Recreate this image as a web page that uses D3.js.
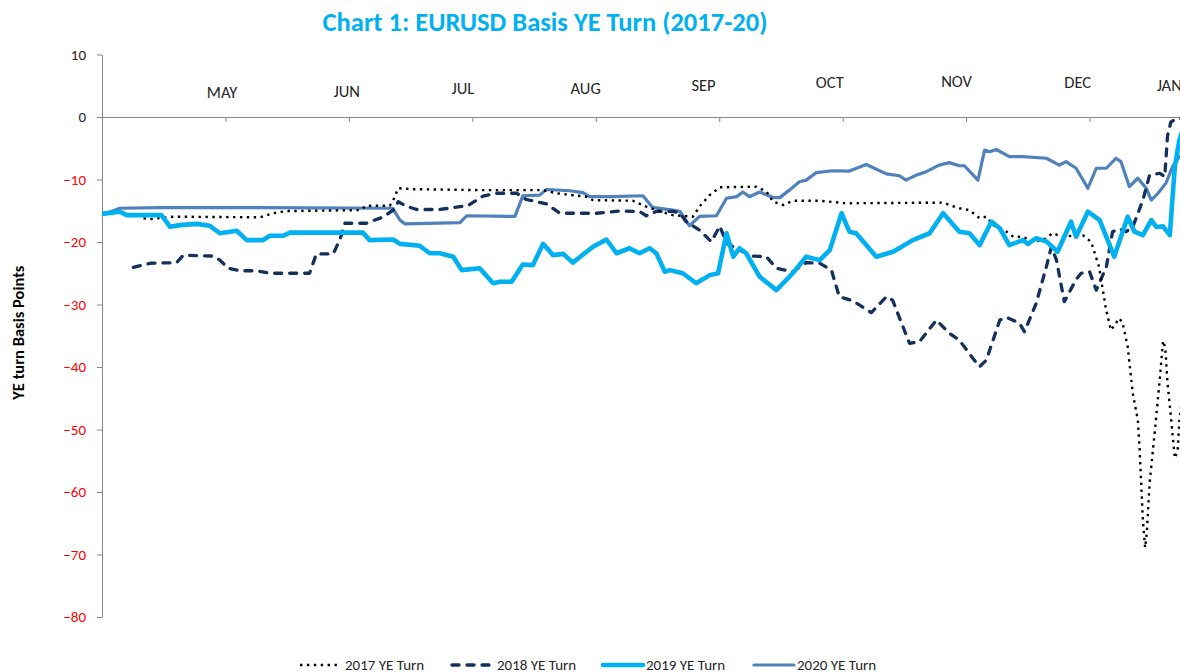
<!DOCTYPE html>
<html>
<head>
<meta charset="utf-8">
<script src="https://cdn.jsdelivr.net/npm/d3@7"></script>
<style>
  body { margin: 0; background: #fff; }
  text { font-family: Carlito, Lato, "Open Sans", sans-serif; }
</style>
</head>
<body>
<div id="chart"></div>
<script>
// x = trading day from start of window (22 per month), y = basis points
const monthNames = ['MAY', 'JUN', 'JUL', 'AUG', 'SEP', 'OCT', 'NOV', 'DEC', 'JAN'];
const monthLabelAt = [[21.4, 4.0], [43.6, 4.2], [64.3, 4.6], [86.2, 4.6], [107.2, 5.1],
                      [129.7, 5.6], [152.3, 5.8], [173.9, 5.6], [190.2, 5.1]];
const monthTicks = [22, 44, 66, 88, 110, 132, 154, 176];
const yTicks = [10, 0, -10, -20, -30, -40, -50, -60, -70, -80];

const ye2017 = [[7.4,-16.2],[8.6,-16.35],[12.7,-15.95],[28.1,-16.05],[30.5,-15.4],[32.9,-15.05],
  [46.0,-14.9],[47.1,-14.2],[51.3,-14.2],[51.9,-13.3],[52.8,-11.4],[55.5,-11.55],[67.3,-11.7],
  [78.6,-11.7],[81.0,-12.2],[86.3,-12.75],[87.5,-13.3],[94.6,-13.4],[97.0,-14.35],[100.6,-15.4],
  [101.7,-15.7],[105.3,-15.95],[106.5,-14.3],[108.3,-12.5],[110.1,-11.25],[116.6,-11.15],
  [118.4,-11.9],[119.6,-13.55],[121.4,-14.1],[123.1,-13.4],[127.9,-13.4],[132.6,-13.8],
  [149.9,-13.7],[151.6,-14.25],[152.8,-14.6],[154.6,-14.9],[156.4,-16.2],[157.6,-15.95],
  [158.8,-17.3],[161.2,-18.35],[162.4,-19.15],[164.1,-19.15],[165.9,-19.95],[167.7,-19.7],
  [169.4,-18.6],[171.2,-19.15],[173.0,-19.0],[174.8,-18.9],[176.3,-20.0],[177.7,-24.0],
  [178.9,-30.6],[179.8,-34.1],[180.7,-33.0],[181.3,-32.2],[181.9,-33.0],[182.8,-36.75],
  [183.7,-44.2],[184.6,-48.5],[184.9,-52.7],[185.2,-58.6],[185.5,-64.5],[185.9,-68.9],
  [186.2,-66.6],[186.7,-58.6],[187.6,-50.6],[188.5,-42.1],[189.1,-35.8],[189.5,-37.0],
  [189.9,-42.6],[190.5,-47.95],[191.2,-54.6],[191.7,-53.3],[192.0,-48.75],[192.6,-44.0]];

const ye2018 = [[5.6,-24.05],[8.6,-23.4],[13.3,-23.3],[14.5,-22.1],[19.8,-22.25],[21.0,-22.9],
  [22.5,-24.2],[24.6,-24.6],[27.6,-24.6],[29.9,-25.0],[37.0,-25.0],[38.2,-21.9],[41.2,-21.9],
  [42.4,-19.6],[43.3,-17.0],[47.1,-17.0],[50.1,-16.0],[51.9,-14.9],[52.8,-13.55],[54.3,-14.3],
  [56.1,-14.8],[60.2,-14.8],[63.8,-14.35],[65.2,-14.2],[67.9,-12.65],[70.3,-12.2],[73.9,-12.2],
  [75.6,-13.2],[79.2,-13.9],[81.6,-15.4],[88.1,-15.4],[92.3,-15.05],[95.8,-15.1],[97.0,-15.8],
  [98.8,-15.1],[101.8,-15.1],[103.0,-15.4],[104.1,-16.75],[106.5,-18.1],[108.6,-19.95],
  [110.1,-17.45],[111.3,-20.2],[113.6,-21.3],[116.0,-22.25],[118.4,-22.35],[120.2,-24.2],
  [123.1,-24.75],[125.5,-23.3],[127.9,-23.4],[130.0,-24.5],[131.4,-28.75],[133.8,-29.4],
  [137.1,-31.3],[139.8,-28.75],[140.9,-29.3],[143.9,-36.2],[145.7,-35.95],[148.7,-32.5],
  [151.0,-34.6],[152.8,-35.7],[155.2,-38.6],[156.4,-39.95],[157.6,-38.9],[160.0,-32.5],
  [161.2,-32.05],[163.5,-33.0],[164.4,-34.35],[166.5,-29.8],[168.3,-23.95],[169.2,-20.75],
  [170.1,-22.9],[171.5,-29.55],[173.6,-26.0],[174.5,-25.0],[176.0,-24.75],[177.2,-27.7],
  [179.0,-23.95],[180.1,-18.35],[181.4,-17.9],[182.5,-18.35],[183.7,-17.6],[185.5,-13.3],
  [186.7,-9.3],[188.5,-9.0],[189.4,-9.55],[189.9,-3.0],[190.5,-0.8],[191.4,-0.3],[192.6,-0.2]];

const ye2019 = [[0,-15.5],[3.2,-15.15],[4.4,-15.7],[10.6,-15.7],[12.1,-17.55],[13.9,-17.3],
  [16.9,-17.1],[19.2,-17.4],[21.0,-18.6],[24.0,-18.2],[25.8,-19.7],[28.7,-19.7],[29.9,-19.0],
  [32.3,-19.0],[33.5,-18.5],[46.5,-18.5],[47.7,-19.7],[51.9,-19.6],[53.1,-20.3],[56.6,-20.6],
  [58.4,-21.8],[60.2,-21.8],[62.6,-22.35],[64.1,-24.5],[67.3,-24.2],[69.7,-26.6],[70.9,-26.35],
  [73.0,-26.35],[75.0,-23.6],[76.8,-23.7],[78.6,-20.3],[80.4,-22.1],[82.2,-21.9],[83.9,-23.3],
  [87.5,-20.75],[89.9,-19.6],[91.7,-21.8],[94.0,-21.0],[95.8,-21.8],[97.6,-21.0],[98.8,-21.8],
  [100.3,-24.75],[101.2,-24.5],[103.5,-25.0],[105.9,-26.6],[108.3,-25.3],[109.8,-25.0],
  [111.3,-18.6],[112.5,-22.35],[113.6,-21.0],[114.8,-21.8],[117.2,-25.55],[120.2,-27.7],
  [123.1,-25.0],[125.5,-22.35],[127.9,-22.9],[129.7,-21.3],[131.8,-15.4],[133.2,-18.35],
  [134.4,-18.6],[138.0,-22.35],[141.0,-21.55],[144.5,-19.7],[147.5,-18.6],[149.9,-15.4],
  [152.8,-18.35],[154.6,-18.6],[156.4,-20.5],[158.5,-16.75],[160.0,-17.8],[161.7,-20.5],
  [164.1,-19.7],[165.0,-20.3],[166.5,-19.4],[168.3,-19.9],[170.3,-21.55],[172.7,-16.75],
  [173.6,-19.15],[175.7,-15.15],[177.8,-16.5],[180.4,-22.35],[182.8,-15.95],[184.0,-18.35],
  [185.5,-18.9],[187.0,-16.5],[187.9,-17.6],[189.1,-17.5],[190.3,-18.9],[191.2,-7.95],
  [192.0,-3.7],[192.8,-1.5]];

const ye2020 = [[0,-15.5],[1.4,-15.2],[3.2,-14.6],[10.3,-14.5],[28.1,-14.5],[51.8,-14.6],
  [53.1,-16.5],[54.0,-17.1],[63.8,-16.9],[65.0,-15.8],[73.6,-15.9],[75.0,-12.6],[78.0,-12.5],
  [79.2,-11.6],[83.4,-11.8],[85.7,-12.1],[86.9,-12.75],[91.0,-12.75],[96.4,-12.6],[98.1,-14.45],
  [101.7,-14.9],[103.0,-15.1],[104.7,-17.4],[106.5,-15.9],[109.5,-15.8],[111.3,-13.0],
  [113.1,-12.75],[114.2,-12.0],[115.4,-12.75],[117.2,-12.0],[119.5,-12.85],[120.8,-12.9],
  [122.5,-11.7],[124.3,-10.35],[125.5,-10.1],[127.3,-8.9],[130.2,-8.6],[133.2,-8.65],
  [136.2,-7.6],[139.8,-9.1],[142.1,-9.4],[143.3,-10.1],[145.1,-9.3],[146.9,-8.75],[149.2,-7.7],
  [151.0,-7.3],[152.8,-7.8],[153.7,-7.8],[156.1,-10.1],[157.3,-5.3],[158.2,-5.55],[159.4,-5.2],
  [161.7,-6.35],[164.1,-6.35],[168.3,-6.6],[170.6,-7.7],[171.8,-7.15],[173.6,-8.2],
  [175.7,-11.4],[177.2,-8.2],[179.0,-8.2],[180.7,-6.6],[181.6,-7.15],[183.1,-11.15],
  [184.6,-9.8],[186.1,-11.4],[187.0,-13.3],[188.2,-12.2],[189.6,-10.6],[190.8,-7.95],
  [192.0,-6.35],[192.8,-6.3]];

const seriesNames = ['2017 YE Turn', '2018 YE Turn', '2019 YE Turn', '2020 YE Turn'];
const seriesData = [ye2017, ye2018, ye2019, ye2020];
const seriesStyle = [
  { color: '#000000', width: 2.4, dash: '2.4 4.5', cap: 'butt' },
  { color: '#14305e', width: 3.3, dash: '7 8', cap: 'round' },
  { color: '#00b0f0', width: 4.6, dash: null, cap: 'round' },
  { color: '#4f81bd', width: 3.2, dash: null, cap: 'round' }
];

const width = 1180, height = 672;
const svg = d3.select('#chart').append('svg')
  .attr('width', width)
  .attr('height', height);

const x = d3.scaleLinear().domain([0, 198]).range([102, 1213]);
const y = d3.scaleLinear().domain([-80, 10]).range([617, 54.5]);

// title
svg.append('text')
  .attr('x', 545).attr('y', 31)
  .attr('text-anchor', 'middle')
  .attr('font-size', 26.5).attr('font-weight', 'bold')
  .attr('fill', '#00b0f0')
  .text('Chart 1: EURUSD Basis YE Turn (2017-20)');

// y axis
const yAxis = svg.append('g')
  .attr('transform', `translate(${x(0)},0)`)
  .call(d3.axisLeft(y).tickValues(yTicks).tickSize(5).tickSizeOuter(0).tickPadding(11));
yAxis.select('.domain').attr('stroke', '#868686');
yAxis.selectAll('.tick line').attr('stroke', '#868686');
yAxis.selectAll('.tick text')
  .attr('font-size', 15)
  .attr('font-family', 'Carlito, Lato, sans-serif')
  .attr('fill', d => d < 0 ? '#ff0000' : '#262626');

svg.append('text')
  .attr('transform', `translate(24,${y(-34.5)}) rotate(-90)`)
  .attr('text-anchor', 'middle')
  .attr('font-size', 16.5).attr('font-weight', 'bold')
  .attr('fill', '#000')
  .text('YE turn Basis Points');

// x axis along zero
const xAxis = svg.append('g')
  .attr('transform', `translate(0,${y(0)})`)
  .call(d3.axisBottom(x).tickValues(monthTicks).tickSize(5).tickSizeOuter(0).tickFormat(''));
xAxis.select('.domain').attr('stroke', '#868686');
xAxis.selectAll('.tick line').attr('stroke', '#868686');

svg.append('g').selectAll('text')
  .data(monthNames)
  .join('text')
  .attr('x', (d, i) => x(monthLabelAt[i][0]))
  .attr('y', (d, i) => y(monthLabelAt[i][1]))
  .attr('dy', '0.35em')
  .attr('text-anchor', 'middle')
  .attr('font-size', 16.5)
  .attr('fill', '#262626')
  .text(d => d);

// lines
const line = d3.line().x(d => x(d[0])).y(d => y(d[1]));
svg.append('clipPath').attr('id', 'plot')
  .append('rect').attr('x', x(0)).attr('y', y(10)).attr('width', width - x(0)).attr('height', y(-80) - y(10));

const lines = svg.append('g').attr('clip-path', 'url(#plot)');
[3, 1, 0, 2].forEach(i => {
  const s = seriesStyle[i];
  lines.append('path')
    .datum(seriesData[i])
    .attr('fill', 'none')
    .attr('stroke', s.color)
    .attr('stroke-width', s.width)
    .attr('stroke-linejoin', 'round')
    .attr('stroke-linecap', s.cap)
    .attr('stroke-dasharray', s.dash)
    .attr('d', line);
});

// legend
const legendX = [300, 452, 603, 754];
const legend = svg.append('g').attr('transform', 'translate(0,665)');
seriesNames.forEach((name, i) => {
  const s = seriesStyle[i];
  const g = legend.append('g').attr('transform', `translate(${legendX[i]},0)`);
  g.append('line')
    .attr('x1', 0).attr('x2', i < 2 ? 38 : 40)
    .attr('stroke', s.color)
    .attr('stroke-width', s.width)
    .attr('stroke-linecap', s.cap)
    .attr('stroke-dasharray', s.dash);
  g.append('text')
    .attr('x', i < 2 ? 45 : 43)
    .attr('dy', '0.35em')
    .attr('font-size', 15)
    .attr('fill', '#262626')
    .text(name);
});
</script>
</body>
</html>
